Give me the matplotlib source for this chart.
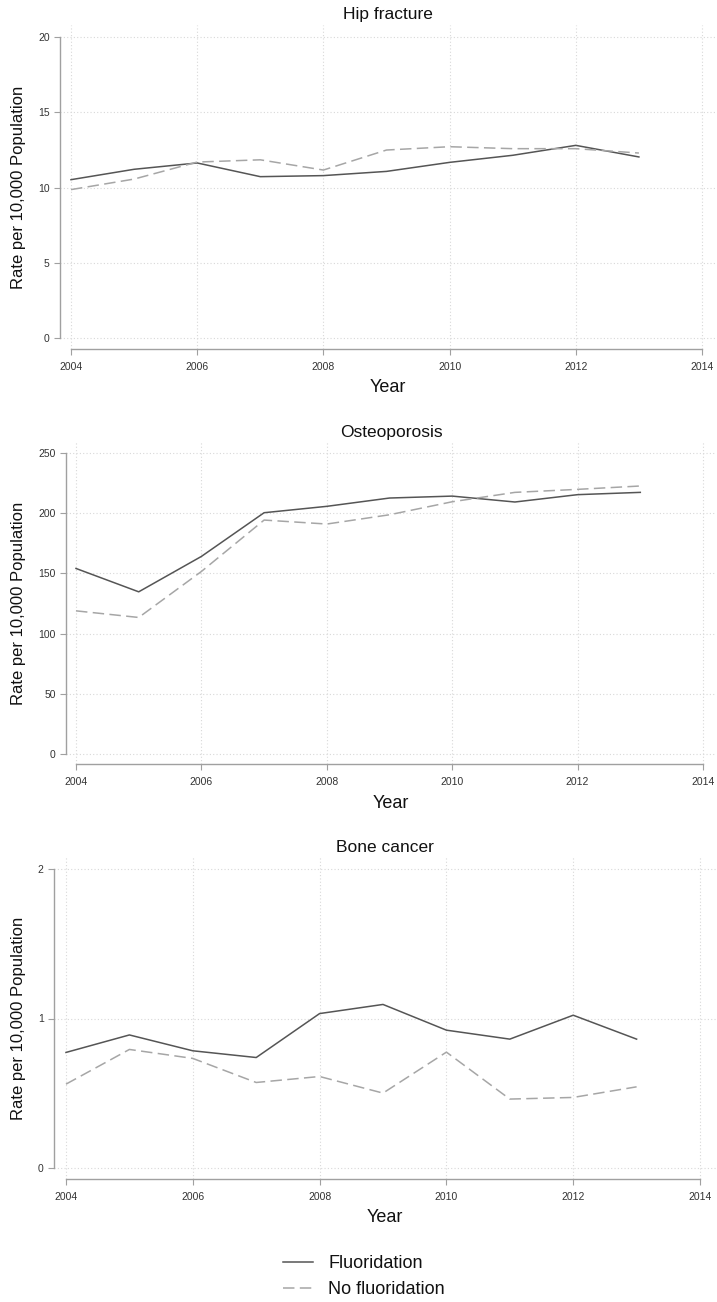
import matplotlib
matplotlib.use("Agg")
import matplotlib.pyplot as plt
from matplotlib.lines import Line2D

plt.rcParams['font.family'] = ['Liberation Sans', 'DejaVu Sans']

years = [2004, 2005, 2006, 2007, 2008, 2009, 2010, 2011, 2012, 2013]

hip_fluor = [10.52, 11.21, 11.63, 10.72, 10.79, 11.07, 11.67, 12.14, 12.80, 12.03]
hip_nofluor = [9.86, 10.56, 11.69, 11.84, 11.16, 12.49, 12.71, 12.58, 12.58, 12.29]

osteo_fluor = [154.1, 134.7, 164.1, 200.4, 205.7, 212.6, 214.2, 209.3, 215.4, 217.3]
osteo_nofluor = [118.9, 113.4, 151.6, 194.3, 191.0, 198.7, 209.5, 217.3, 219.8, 222.6]

bone_fluor = [0.773, 0.890, 0.784, 0.739, 1.033, 1.094, 0.922, 0.862, 1.022, 0.862]
bone_nofluor = [0.561, 0.793, 0.733, 0.572, 0.612, 0.501, 0.775, 0.461, 0.472, 0.543]

titles = ['Hip fracture', 'Osteoporosis', 'Bone cancer']
yticks = [[0, 5, 10, 15, 20], [0, 50, 100, 150, 200, 250], [0, 1, 2]]
xticks = [2004, 2006, 2008, 2010, 2012, 2014]

W, H = 717, 1302
fig = plt.figure(figsize=(W / 100, H / 100), dpi=100)

# pixel layout per panel: x of 2004, x of 2014, y of top tick, y of 0, spine x, spine y
layout = [
    (71, 702, 37, 338, 60, 349),
    (76, 703, 453, 754, 66, 764),
    (66, 700, 869, 1168, 54, 1179),
]
title_y = [14, 432, 847]
year_y = [387, 803, 1218]

solid_c = '#555555'
dash_c = '#a6a6a6'
spine_c = '#a0a0a0'
text_c = '#111111'
lw = 1.1
dash = (7.5, 3.5)

data = [(hip_fluor, hip_nofluor), (osteo_fluor, osteo_nofluor), (bone_fluor, bone_nofluor)]

for i, (fl, nf) in enumerate(data):
    x0, x1, yt, y0, sx, sy = layout[i]
    ymax = yticks[i][-1]
    top_px = yt - 12
    right_px = 716
    ax = fig.add_axes([sx / W, 1 - sy / H, (right_px - sx) / W, (sy - top_px) / H])
    k = (x1 - x0) / 10
    m = (y0 - yt) / ymax
    ax.set_xlim(2004 - (x0 - sx) / k, 2014 + (right_px - x1) / k)
    ax.set_ylim(-(sy - y0) / m, ymax + (yt - top_px) / m)

    ax.plot(years, fl, color=solid_c, lw=lw)
    ax.plot(years, nf, color=dash_c, lw=lw, dashes=dash)

    ax.set_xticks(xticks)
    ax.set_yticks(yticks[i])
    ax.grid(True, color='#d8d8d8', linestyle=(0, (1, 2)), linewidth=0.8)
    for s in ['top', 'right']:
        ax.spines[s].set_visible(False)
    for s in ['left', 'bottom']:
        ax.spines[s].set_color(spine_c)
        ax.spines[s].set_linewidth(1.0)
    ax.spines['left'].set_bounds(0, ymax)
    ax.spines['bottom'].set_bounds(2004, 2014)
    ax.tick_params(axis='both', colors=spine_c, labelcolor='#333333', labelsize=7.5,
                   length=4, width=0.8)
    ax.tick_params(axis='y', pad=3.5)
    ax.tick_params(axis='x', pad=5)

    cx = (sx + right_px) / 2 / W
    fig.text(cx, 1 - title_y[i] / H, titles[i], ha='center', va='center',
             fontsize=12.5, color=text_c)
    fig.text(cx, 1 - year_y[i] / H, 'Year', ha='center', va='center',
             fontsize=13, color=text_c)
    fig.text(19 / W, 1 - (yt + y0) / 2 / H, 'Rate per 10,000 Population',
             rotation=90, ha='center', va='center', fontsize=12, color=text_c)

handles = [Line2D([], [], color=solid_c, lw=lw),
           Line2D([], [], color=dash_c, lw=lw, dashes=dash)]
fig.legend(handles, ['Fluoridation', 'No fluoridation'], loc='upper left',
           bbox_to_anchor=(283 / W, 1 - 1255 / H), frameon=False, fontsize=13,
           borderpad=0, borderaxespad=0, handlelength=1.67, handletextpad=0.83,
           labelspacing=0.52, labelcolor=text_c)

fig.savefig('out.png', dpi=100)
